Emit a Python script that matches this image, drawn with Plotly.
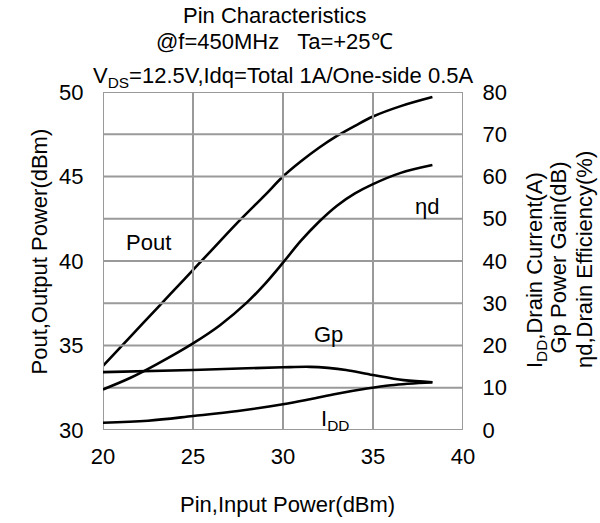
import plotly.graph_objects as go

# ---------------- data ----------------
pin_pout = [20, 21.5, 23, 24.5, 26, 27.5, 29, 30, 31, 32, 33, 34, 35, 36.5, 38.3]
pout = [33.8, 35.5, 37.2, 38.9, 40.6, 42.3, 43.9, 45.0, 45.9, 46.7, 47.4, 48.0, 48.55, 49.15, 49.7]

pin_eta = [20, 21.5, 23, 25, 26.5, 28, 29, 30, 31, 32, 33, 34, 35, 36.5, 38.3]
eta = [9.6, 12.3, 15.6, 20.5, 24.8, 30.2, 34.6, 39.6, 44.8, 49.3, 53.1, 56.0, 58.2, 60.8, 62.7]

pin_gp = [20, 25, 28, 30, 31.5, 32.5, 33.5, 35, 36.7, 38.3]
gp = [13.7, 14.2, 14.6, 14.85, 14.95, 14.7, 14.2, 13.0, 11.8, 11.3]

pin_idd = [20, 22.5, 25, 27.5, 30, 31.5, 33, 34.5, 36, 38.3]
idd = [1.7, 2.2, 3.3, 4.5, 6.1, 7.3, 8.6, 9.7, 10.6, 11.3]

x_ticks = [20, 25, 30, 35, 40]
left_ticks = [30, 35, 40, 45, 50]
right_ticks = [0, 10, 20, 30, 40, 50, 60, 70, 80]

title_lines = [
    "Pin Characteristics",
    "@f=450MHz   Ta=+25\u2103",
    "V<sub>DS</sub>=12.5V,Idq=Total 1A/One-side 0.5A",
]
x_title = "Pin,Input Power(dBm)"
left_title = "Pout,Output Power(dBm)"
right_titles = ["I<sub>DD</sub>,Drain Current(A)", "Gp Power Gain(dB)", "\u03b7d,Drain Efficiency(%)"]

# ---------------- figure ----------------
W, H = 600, 523
L, R, T, B = 103, 137, 92, 93
FONT = "Liberation Sans, Arial, sans-serif"
FS = 22
GRID = "#9a9a9a"

def px_x(p):
    return (p - L) / (W - L - R)

def px_y(p):
    return (H - B - p) / (H - T - B)

x_lo, x_hi = x_ticks[0], x_ticks[-1]
yl_lo, yl_hi = left_ticks[0], left_ticks[-1]
yr_lo, yr_hi = right_ticks[0], right_ticks[-1]

# grid lines built from the tick lists (vertical on x ticks, horizontal on right-axis ticks)
gx, gy = [], []
for v in x_ticks:
    gx += [v, v, None]
    gy += [yr_lo, yr_hi, None]
for v in right_ticks:
    gx += [x_lo, x_hi, None]
    gy += [v, v, None]

line_style = dict(color="black", width=2.6, shape="spline", smoothing=1.0)

fig = go.Figure()
fig.add_trace(go.Scatter(x=gx, y=gy, mode="lines", yaxis="y2", cliponaxis=False,
                         line=dict(color=GRID, width=2), hoverinfo="skip"))
fig.add_trace(go.Scatter(x=pin_pout, y=pout, mode="lines", line=line_style, yaxis="y"))
fig.add_trace(go.Scatter(x=pin_eta, y=eta, mode="lines", line=line_style, yaxis="y2"))
fig.add_trace(go.Scatter(x=pin_gp, y=gp, mode="lines", line=line_style, yaxis="y2"))
fig.add_trace(go.Scatter(x=pin_idd, y=idd, mode="lines", line=line_style, yaxis="y2"))

fig.update_layout(
    template="none",
    width=W, height=H,
    margin=dict(l=L, r=R, t=T, b=B, pad=0),
    paper_bgcolor="white", plot_bgcolor="white",
    showlegend=False,
    font=dict(family=FONT, size=FS, color="black"),
    xaxis=dict(range=[x_lo, x_hi], tickmode="array", tickvals=x_ticks,
               showgrid=False, showline=False, zeroline=False,
               ticks="outside", ticklen=7, tickcolor="rgba(0,0,0,0)", tickfont=dict(size=FS)),
    yaxis=dict(range=[yl_lo, yl_hi], tickmode="array", tickvals=left_ticks,
               showgrid=False, showline=False, zeroline=False,
               ticks="outside", ticklen=14, tickcolor="rgba(0,0,0,0)", tickfont=dict(size=FS)),
    yaxis2=dict(range=[yr_lo, yr_hi], tickmode="array", tickvals=right_ticks, overlaying="y", side="right",
                showgrid=False, zeroline=False, showline=False,
                ticks="outside", ticklen=14, tickcolor="rgba(0,0,0,0)", tickfont=dict(size=FS)),
)

ann = []
# title lines
ann.append(dict(text=title_lines[0], x=px_x(274), y=px_y(15.5), xanchor="center", yanchor="middle"))
ann.append(dict(text=title_lines[1], x=px_x(274), y=px_y(41.5), xanchor="center", yanchor="middle"))
ann.append(dict(text=title_lines[2], x=px_x(283.5), y=px_y(61), xanchor="center", yanchor="top"))
# axis titles
ann.append(dict(text=x_title, x=px_x(287), y=px_y(504), xanchor="center", yanchor="middle"))
ann.append(dict(text=left_title, x=px_x(38.5), y=px_y(252), xanchor="center", yanchor="middle", textangle=-90))
ann.append(dict(text=right_titles[0], x=px_x(536), y=px_y(270), xanchor="center", yanchor="middle", textangle=-90))
ann.append(dict(text=right_titles[1], x=px_x(557.5), y=px_y(258), xanchor="center", yanchor="middle", textangle=-90))
ann.append(dict(text=right_titles[2], x=px_x(584), y=px_y(260), xanchor="center", yanchor="middle", textangle=-90))
for a in ann:
    a.update(xref="paper", yref="paper", showarrow=False, font=dict(family=FONT, size=FS, color="black"))

# curve labels (data coordinates on left axis)
curve_labels = [("Pout", 22.52, 41.07), ("\u03b7d", 38.02, 43.25), ("Gp", 32.52, 35.68)]
for txt, xx, yy in curve_labels:
    ann.append(dict(text=txt, x=xx, y=yy, xref="x", yref="y", showarrow=False,
                    xanchor="center", yanchor="middle", font=dict(family=FONT, size=FS, color="black")))
ann.append(dict(text="I<sub>DD</sub>", x=32.9, y=px_y(404), xref="x", yref="paper", showarrow=False,
                xanchor="center", yanchor="top", font=dict(family=FONT, size=FS, color="black")))

fig.update_layout(annotations=ann)
fig.write_html("out.html")
